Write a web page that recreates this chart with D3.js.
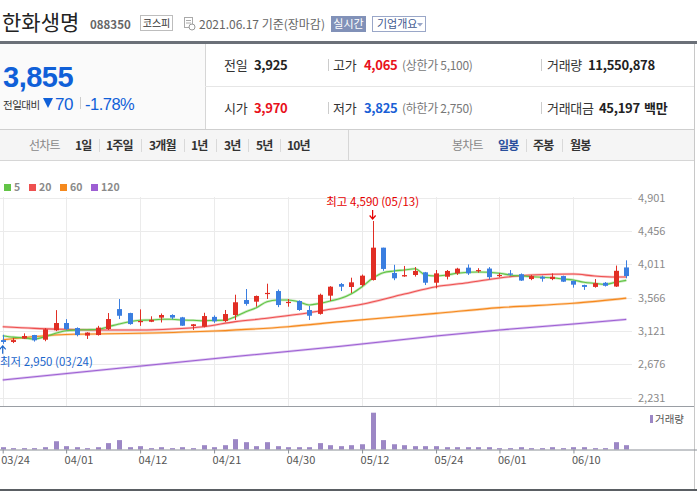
<!DOCTYPE html>
<html>
<head>
<meta charset="utf-8">
<script src="https://cdn.jsdelivr.net/npm/d3@7"></script>
<style>
  html, body { margin: 0; padding: 0; background: #fff; }
  svg { display: block; font-family: "Noto Sans CJK KR", "Noto Sans", sans-serif; }
</style>
</head>
<body>
<svg id="chart" width="697" height="493"></svg>
<script>
const dates = ["03/24","03/25","03/26","03/29","03/30","03/31","04/01","04/02","04/05","04/06",
  "04/07","04/08","04/09","04/12","04/13","04/14","04/15","04/16","04/19","04/20",
  "04/21","04/22","04/23","04/26","04/27","04/28","04/29","04/30","05/03","05/04",
  "05/06","05/07","05/10","05/11","05/12","05/13","05/14","05/17","05/18","05/20",
  "05/21","05/24","05/25","05/26","05/27","05/28","05/31","06/01","06/02","06/03",
  "06/04","06/07","06/08","06/09","06/10","06/11","06/14","06/15","06/16","06/17"];

const open = [3000,2975,3020,3068,3005,3131,3228,3161,3060,3068,
  3148,3414,3361,3245,3245,3300,3335,3304,3188,3179,
  3310,3255,3335,3535,3513,3620,3655,3503,3522,3402,
  3350,3593,3748,3709,3735,3802,4234,3896,3850,3869,
  3905,3766,3846,3891,3967,3925,3955,3860,3890,3880,
  3815,3845,3815,3855,3790,3735,3710,3765,3715,3970];
const high = [3070,3030,3090,3070,3160,3400,3280,3170,3105,3190,
  3361,3548,3365,3410,3318,3355,3345,3310,3215,3365,
  3330,3402,3606,3682,3595,3753,3675,3549,3530,3455,
  3620,3720,3762,3833,3875,4590,4234,4005,3990,3975,
  3910,3936,3936,3965,4010,3960,3975,3895,3935,3890,
  3870,3860,3890,3860,3795,3740,3815,3775,3995,4065];
const low = [2950,2960,3015,2980,2985,3120,3130,3050,3015,3060,
  3135,3281,3205,3190,3240,3235,3280,3190,3135,3170,
  3230,3240,3268,3460,3446,3549,3440,3446,3390,3268,
  3340,3522,3655,3629,3715,3795,3925,3800,3845,3848,
  3735,3690,3810,3870,3870,3900,3810,3840,3860,3790,
  3800,3780,3800,3775,3700,3670,3700,3715,3710,3825];
const close = [2975,3000,3055,2997,3144,3228,3148,3068,3100,3166,
  3281,3325,3214,3255,3271,3335,3300,3192,3211,3321,
  3251,3348,3505,3483,3589,3630,3468,3510,3402,3325,
  3605,3713,3713,3771,3860,4234,3950,3825,3868,3923,
  3766,3891,3923,3954,3891,3935,3840,3870,3875,3795,
  3855,3820,3845,3780,3740,3710,3760,3725,3925,3855];
// 거래량 (백만주)
const volume = [6.2,3.6,3.6,3.6,6.2,22,8.9,6.2,3.6,6.2,
  17,25,6.2,8.9,3.6,6.2,3.6,6.2,3.6,11.5,
  6.2,11.5,27.5,19.5,8.9,19.5,8.9,6.2,6.2,6.2,
  17,11.5,8.9,11.5,14,98,25,14,11.5,8.9,
  8.9,8.9,6.2,6.2,6.2,6.2,6.2,3.6,3.6,6.2,
  3.6,3.6,6.2,3.6,6.2,6.2,3.6,3.6,19.5,11.55];

// 이동평균선
const ma5 = [3059,3040,3030,3015,3045,3091,3125,3135,3139,3144,
  3179,3215,3246,3264,3268,3278,3278,3268,3264,3259,
  3262,3264,3312,3379,3433,3513,3535,3535,3513,3469,
  3491,3522,3558,3620,3713,3825,3900,3922,3936,3953,
  3869,3856,3869,3892,3905,3909,3905,3892,3869,3856,
  3846,3838,3833,3816,3802,3772,3758,3745,3772,3798];
const ma20 = [[0,3179],[3,3157],[6,3144],[9,3135],[13,3135],[16,3148],[19,3179],[22,3246],
  [25,3291],[28,3344],[31,3411],[34,3478],[38,3615],[41,3713],[44,3765],[47,3830],
  [50,3870],[54,3882],[56,3855],[58,3842],[59,3842]];
const ma60 = [[0,3005],[6,3075],[13,3091],[20,3121],[27,3179],[32,3246],[41,3357],
  [47,3433],[54,3491],[59,3560]];
const ma120 = [[0,2467],[11,2625],[22,2781],[32,2918],[41,3055],[47,3135],[54,3215],[59,3277]];

const priceTicks = [4901,4456,4011,3566,3121,2676,2231];
const dateTicks = ["03/24","04/01","04/12","04/21","04/30","05/12","05/24","06/01","06/10"];

const maxPoint = { idx: 35, price: 4590, label: "최고 4,590 (05/13)" };
const minPoint = { idx: 0, price: 2950, label: "최저 2,950 (03/24)" };

const UP = "#e12e24", DOWN = "#3a7ee0";
const maColors = { ma5: "#62c446", ma20: "#ee5050", ma60: "#f5891e", ma120: "#9d5fd3" };
const NUM_FONT = "'Liberation Sans', Arial, sans-serif";

const svg = d3.select("#chart");

// ---------- 헤더 ----------
svg.append("text").attr("x", 2).attr("y", 30)
  .attr("font-size", 21).attr("fill", "#222").text("한화생명");
svg.append("text").attr("x", 90).attr("y", 29)
  .attr("font-size", 11.5).attr("font-weight", "bold").attr("fill", "#666").text("088350");
svg.append("rect").attr("x", 140.5).attr("y", 15.5).attr("width", 32).attr("height", 15)
  .attr("fill", "#fff").attr("stroke", "#bdbdbd");
svg.append("text").attr("x", 156.5).attr("y", 27).attr("text-anchor", "middle")
  .attr("font-size", 10).attr("fill", "#333").text("코스피");

// 달력 아이콘
const cal = svg.append("g").attr("transform", "translate(184,17)");
cal.append("rect").attr("x", 0.5).attr("y", 0.5).attr("width", 8).attr("height", 10)
  .attr("fill", "#fff").attr("stroke", "#aaa");
cal.append("line").attr("x1", 2).attr("x2", 7).attr("y1", 3.5).attr("y2", 3.5).attr("stroke", "#aaa");
cal.append("line").attr("x1", 2).attr("x2", 7).attr("y1", 6).attr("y2", 6).attr("stroke", "#aaa");
cal.append("circle").attr("cx", 8).attr("cy", 10).attr("r", 3).attr("fill", "#fff").attr("stroke", "#999");

svg.append("text").attr("x", 199).attr("y", 28.5)
  .attr("font-size", 12).attr("fill", "#666").text("2021.06.17 기준(장마감)");

svg.append("rect").attr("x", 331).attr("y", 16).attr("width", 35).attr("height", 16)
  .attr("fill", "#8191b8");
svg.append("text").attr("x", 348.5).attr("y", 28).attr("text-anchor", "middle")
  .attr("font-size", 11).attr("fill", "#fff").text("실시간");
svg.append("rect").attr("x", 372.5).attr("y", 16.5).attr("width", 53).attr("height", 15)
  .attr("fill", "#fff").attr("stroke", "#9aa7c8");
svg.append("text").attr("x", 377).attr("y", 28)
  .attr("font-size", 11).attr("fill", "#42598f").text("기업개요");
svg.append("path").attr("d", "M417,23 L423,23 L420,26.5 Z").attr("fill", "#9aa7c8");

svg.append("rect").attr("x", 0).attr("y", 41).attr("width", 697).attr("height", 3).attr("fill", "#6b7078");

// ---------- 시세 박스 ----------
svg.append("rect").attr("x", 0).attr("y", 44).attr("width", 205).attr("height", 85).attr("fill", "#fafafa");
svg.append("line").attr("x1", 205.5).attr("x2", 205.5).attr("y1", 44).attr("y2", 129).attr("stroke", "#d6d6d6");
svg.append("line").attr("x1", 205).attr("x2", 694).attr("y1", 86.5).attr("y2", 86.5).attr("stroke", "#e6e6e6");
svg.append("line").attr("x1", 0).attr("x2", 694).attr("y1", 129.5).attr("y2", 129.5).attr("stroke", "#cfcfcf");

svg.append("text").attr("x", 3).attr("y", 86.5)
  .attr("font-family", NUM_FONT).attr("font-size", 29).attr("font-weight", "bold")
  .attr("letter-spacing", -0.5).attr("fill", "#1060d8").text("3,855");
svg.append("text").attr("x", 3).attr("y", 108.5)
  .attr("font-size", 10.5).attr("letter-spacing", -0.5).attr("fill", "#333").text("전일대비");
svg.append("path").attr("d", "M43,98 L53,98 L48,108 Z").attr("fill", "#1060d8");
svg.append("text").attr("x", 55).attr("y", 109.5)
  .attr("font-family", NUM_FONT).attr("font-size", 17).attr("letter-spacing", -0.5)
  .attr("fill", "#1060d8").text("70");
svg.append("line").attr("x1", 80.5).attr("x2", 80.5).attr("y1", 97).attr("y2", 109).attr("stroke", "#ccc");
svg.append("text").attr("x", 85).attr("y", 109.5)
  .attr("font-family", NUM_FONT).attr("font-size", 16.5).attr("letter-spacing", -0.5)
  .attr("fill", "#1060d8").text("-1.78%");

const quoteRows = [
  { y: 70, items: [
    { x: 224, t: "전일", c: "#333" }, { x: 254, t: "3,925", c: "#222", b: true },
    { x: 333, t: "고가", c: "#333" }, { x: 364, t: "4,065", c: "#e8111b", b: true },
    { x: 402, t: "(상한가 5,100)", c: "#777", s: 12 },
    { x: 547, t: "거래량", c: "#333" }, { x: 588, t: "11,550,878", c: "#222", b: true }] },
  { y: 113, items: [
    { x: 224, t: "시가", c: "#333" }, { x: 254, t: "3,970", c: "#e8111b", b: true },
    { x: 333, t: "저가", c: "#333" }, { x: 364, t: "3,825", c: "#1a5fd6", b: true },
    { x: 402, t: "(하한가 2,750)", c: "#777", s: 12 },
    { x: 547, t: "거래대금", c: "#333" }, { x: 599, t: "45,197", c: "#222", b: true },
    { x: 644, t: "백만", c: "#222", b: true }] }
];
quoteRows.forEach(row => {
  row.items.forEach(d => {
    svg.append("text").attr("x", d.x).attr("y", row.y)
      .attr("font-size", d.s || 13).attr("font-weight", d.b ? "bold" : "normal")
      .attr("letter-spacing", -0.3).attr("fill", d.c).text(d.t);
  });
  [328.5, 541.5].forEach(x => svg.append("line").attr("x1", x).attr("x2", x)
    .attr("y1", row.y - 11).attr("y2", row.y + 1).attr("stroke", "#ccc"));
});

// ---------- 탭 바 ----------
svg.append("rect").attr("x", 0).attr("y", 130).attr("width", 694).attr("height", 30).attr("fill", "#f5f5f5");
svg.append("line").attr("x1", 0).attr("x2", 694).attr("y1", 160.5).attr("y2", 160.5).attr("stroke", "#d6d6d6");
svg.append("line").attr("x1", 348.5).attr("x2", 348.5).attr("y1", 130).attr("y2", 160).attr("stroke", "#d6d6d6");

const tabs = [
  { x: 29, t: "선차트", c: "#888", b: false }, { x: 75, t: "1일" }, { x: 106, t: "1주일" },
  { x: 149, t: "3개월" }, { x: 191, t: "1년" }, { x: 224, t: "3년" }, { x: 256, t: "5년" },
  { x: 287, t: "10년" },
  { x: 452, t: "봉차트", c: "#888", b: false }, { x: 498, t: "일봉", c: "#2a4f9c" },
  { x: 533, t: "주봉" }, { x: 570, t: "월봉" }
];
tabs.forEach(d => svg.append("text").attr("x", d.x).attr("y", 150)
  .attr("font-size", 12).attr("letter-spacing", -0.8)
  .attr("font-weight", d.b === false ? "normal" : "bold")
  .attr("fill", d.c || "#333").text(d.t));
[99, 141, 184, 216, 248, 280, 526, 562].forEach(x => svg.append("line")
  .attr("x1", x + 0.5).attr("x2", x + 0.5).attr("y1", 139).attr("y2", 152).attr("stroke", "#d9d9d9"));

svg.append("line").attr("x1", 694.5).attr("x2", 694.5).attr("y1", 44).attr("y2", 490).attr("stroke", "#c8c8c8");

// ---------- 범례 ----------
const legendItems = [
  { k: "ma5", t: "5", x: 4 }, { k: "ma20", t: "20", x: 29 },
  { k: "ma60", t: "60", x: 60 }, { k: "ma120", t: "120", x: 91 }
];
legendItems.forEach(d => {
  svg.append("rect").attr("x", d.x).attr("y", 184).attr("width", 7).attr("height", 7).attr("fill", maColors[d.k]);
  svg.append("text").attr("x", d.x + 10).attr("y", 191)
    .attr("font-size", 10.5).attr("font-weight", "bold").attr("fill", "#8a8a8a").text(d.t);
});

// ---------- 스케일 ----------
const x = d3.scaleLinear().domain([0, dates.length - 1]).range([2.7, 626.3]);
const y = d3.scaleLinear().domain([2231, 4901]).range([397.7, 197.7]);
const yVol = d3.scaleLinear().domain([0, d3.max(volume)]).range([449.5, 412.7]);

// 그리드
const grid = svg.append("g");
grid.selectAll(".hgrid").data(priceTicks).join("line")
  .attr("x1", 0).attr("x2", 632).attr("y1", d => Math.round(y(d)) + 0.5).attr("y2", d => Math.round(y(d)) + 0.5)
  .attr("stroke", "#ebebeb");
grid.selectAll(".vgrid").data(dateTicks).join("line")
  .attr("x1", d => Math.round(x(dates.indexOf(d))) + 0.5).attr("x2", d => Math.round(x(dates.indexOf(d))) + 0.5)
  .attr("y1", 197).attr("y2", 406).attr("stroke", "#ebebeb");

const yAxis = d3.axisRight(y).tickValues(priceTicks).tickSize(0).tickPadding(0)
  .tickFormat(d3.format(","));
svg.append("g").attr("transform", "translate(638,0)").call(yAxis)
  .call(g => g.select(".domain").remove())
  .call(g => g.selectAll("text").attr("font-size", 11).attr("fill", "#8a8a8a")
    .attr("font-family", "'Noto Sans CJK KR', sans-serif"));

svg.append("defs").append("clipPath").attr("id", "plot")
  .append("rect").attr("x", 0).attr("y", 190).attr("width", 632).attr("height", 216);

const plot = svg.append("g").attr("clip-path", "url(#plot)");

// 이동평균선
const lineIdx = d3.line().curve(d3.curveMonotoneX).x(d => x(d[0])).y(d => y(d[1]));
const series = [
  { k: "ma120", pts: ma120 }, { k: "ma60", pts: ma60 },
  { k: "ma20", pts: ma20 }, { k: "ma5", pts: ma5.map((v, i) => [i, v]) }
];
series.forEach(s => {
  plot.append("path").attr("d", lineIdx(s.pts)).attr("fill", "none")
    .attr("stroke", maColors[s.k]).attr("stroke-opacity", 0.35).attr("stroke-width", 2.6);
  plot.append("path").attr("d", lineIdx(s.pts)).attr("fill", "none")
    .attr("stroke", maColors[s.k]).attr("stroke-width", 1.1);
});

// 캔들
const candles = plot.selectAll(".candle").data(dates.map((d, i) => i)).join("g").attr("class", "candle");
candles.append("line")
  .attr("x1", i => Math.round(x(i)) + 0.5).attr("x2", i => Math.round(x(i)) + 0.5)
  .attr("y1", i => y(high[i])).attr("y2", i => y(low[i]))
  .attr("stroke", i => close[i] >= open[i] ? UP : DOWN);
candles.append("rect")
  .attr("x", i => Math.round(x(i)) - 2).attr("width", 5)
  .attr("y", i => y(Math.max(open[i], close[i])))
  .attr("height", i => Math.max(1.2, Math.abs(y(open[i]) - y(close[i]))))
  .attr("fill", i => close[i] >= open[i] ? UP : DOWN);

// 최고 / 최저 표시
const mx = x(maxPoint.idx), my = y(maxPoint.price);
svg.append("text").attr("x", mx).attr("y", my - 15).attr("text-anchor", "middle")
  .attr("font-size", 11.5).attr("fill", "#e60000").text(maxPoint.label);
svg.append("path").attr("d", `M${mx},${my - 11} V${my - 2} M${mx - 3},${my - 5.5} L${mx},${my - 2} L${mx + 3},${my - 5.5}`)
  .attr("fill", "none").attr("stroke", "#e60000").attr("stroke-width", 1.2);

const nx = x(minPoint.idx), ny = y(minPoint.price);
svg.append("path").attr("d", `M${nx},${ny + 10} V${ny + 2} M${nx - 3},${ny + 5.5} L${nx},${ny + 2} L${nx + 3},${ny + 5.5}`)
  .attr("fill", "none").attr("stroke", "#1a66cc").attr("stroke-width", 1.2);
svg.append("text").attr("x", 0).attr("y", ny + 22)
  .attr("font-size", 11.5).attr("fill", "#1a66cc").text(minPoint.label);

// ---------- 거래량 ----------
svg.append("line").attr("x1", 0).attr("x2", 694).attr("y1", 406.5).attr("y2", 406.5).attr("stroke", "#9a9ea4");
svg.selectAll(".vol").data(volume).join("rect").attr("class", "vol")
  .attr("x", (d, i) => Math.round(x(i)) - 2).attr("width", 5)
  .attr("y", d => yVol(d)).attr("height", d => yVol(0) - yVol(d))
  .attr("fill", "#9c87c5");
svg.append("rect").attr("x", 650).attr("y", 415).attr("width", 3).attr("height", 8).attr("fill", "#9c87c5");
svg.append("text").attr("x", 655).attr("y", 423)
  .attr("font-size", 10.5).attr("fill", "#555").text("거래량");

const xAxis = d3.axisBottom(d3.scalePoint().domain(dates).range([x(0), x(dates.length - 1)]))
  .tickValues(dateTicks).tickSize(4).tickPadding(3);
svg.append("g").attr("transform", "translate(0,449.5)").call(xAxis)
  .call(g => g.select(".domain").attr("d", "M0,0.5H697").attr("stroke", "#8a8f96"))
  .call(g => g.selectAll(".tick line").attr("stroke", "#8a8f96"))
  .call(g => g.selectAll(".tick text").attr("text-anchor", "start").attr("dx", -2)
    .attr("font-size", 11).attr("fill", "#555")
    .attr("font-family", "'Noto Sans CJK KR', sans-serif"));

svg.append("rect").attr("x", 0).attr("y", 489).attr("width", 697).attr("height", 2).attr("fill", "#5a5e63");
</script>
</body>
</html>
